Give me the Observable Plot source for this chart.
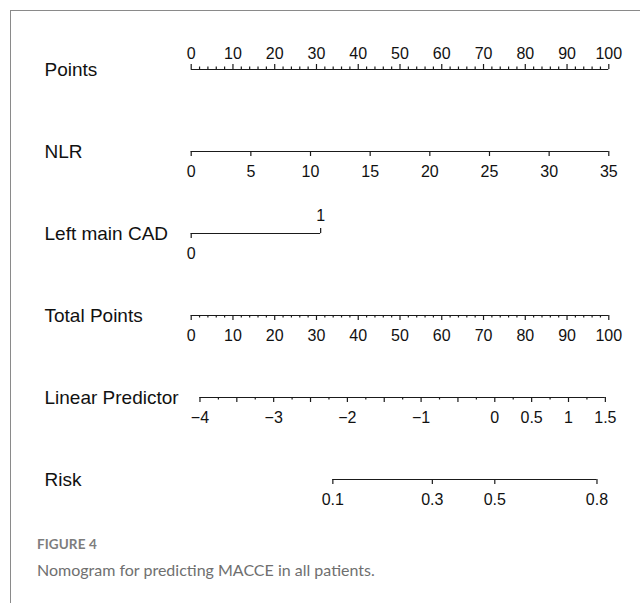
<!DOCTYPE html>
<html>
<head>
<meta charset="utf-8">
<script src="https://cdn.jsdelivr.net/npm/d3@7"></script>
<script src="https://cdn.jsdelivr.net/npm/@observablehq/plot@0.6"></script>
<style>
  html, body { margin: 0; padding: 0; background: #fff; }
  #page { position: relative; width: 640px; height: 603px; overflow: hidden; }
  #frame { position: absolute; left: 10px; top: 10px; width: 640px; height: 600px;
           border-top: 1.5px solid #8a8a8a; border-left: 1.5px solid #8a8a8a; }
  #chart { position: absolute; left: 0; top: 0; }
  #fig { position: absolute; left: 37px; top: 536px; font-family: Lato, "Open Sans", sans-serif;
         font-size: 13.5px; font-weight: 700; color: #7d7d7d; letter-spacing: 0.1px; }
  #cap { position: absolute; left: 37px; top: 560px; font-family: Lato, "Open Sans", sans-serif;
         font-size: 16px; color: #6f6f6f; }
</style>
</head>
<body>
<div id="page">
  <div id="frame"></div>
  <div id="chart"></div>
  <div id="fig">FIGURE 4</div>
  <div id="cap">Nomogram for predicting MACCE in all patients.</div>
</div>
<script>
// Nomogram rows, top to bottom
const rows = ["Points", "NLR", "Left main CAD", "Total Points", "Linear Predictor", "Risk"];

// Points scale
const pointsLabels = [0, 10, 20, 30, 40, 50, 60, 70, 80, 90, 100];
const pointsMinorStep = 2;

// NLR: full range 0–35 spans 0–100 points
const nlrLabels = [0, 5, 10, 15, 20, 25, 30, 35];
const nlrMax = 35;

// Left main CAD: level and its points
const lmcadLevels = [0, 1];
const lmcadPoints = [0, 31];

// Total points scale
const totalLabels = [0, 10, 20, 30, 40, 50, 60, 70, 80, 90, 100];
const totalMinorStep = 2;

// Linear predictor: labelled values, tick step and mapping to total points
const lpLabels = [-4, -3, -2, -1, 0, 0.5, 1, 1.5];
const lpMajorStep = 0.5;
const lpMinorStep = 0.25;
const lpSlope = 17.65;      // total points per unit of linear predictor
const lpIntercept = 72.7;   // total points at linear predictor 0

// Risk: labelled probabilities
const riskLabels = [0.1, 0.3, 0.5, 0.8];

const lpToPts = lp => lpIntercept + lpSlope * lp;
const riskToPts = r => lpToPts(Math.log(r / (1 - r)));
const fmt = v => String(v).replace("-", "\u2212");

// Axis lines (in points units)
const lines = [
  {row: "Points", x1: 0, x2: 100},
  {row: "NLR", x1: 0, x2: 100},
  {row: "Left main CAD", x1: lmcadPoints[0], x2: lmcadPoints[1]},
  {row: "Total Points", x1: 0, x2: 100},
  {row: "Linear Predictor", x1: lpToPts(lpLabels[0]), x2: lpToPts(lpLabels[lpLabels.length - 1])},
  {row: "Risk", x1: riskToPts(riskLabels[0]), x2: riskToPts(riskLabels[riskLabels.length - 1])}
];

// Ticks: dir up/down, size major/minor
const ticks = [];
const labels = [];
d3.range(0, 100 + 1e-9, pointsMinorStep).forEach(v =>
  ticks.push({row: "Points", x: v, dir: "up", major: v % 10 === 0}));
pointsLabels.forEach(v => labels.push({row: "Points", x: v, text: fmt(v), pos: "above"}));

nlrLabels.forEach(v => {
  ticks.push({row: "NLR", x: v / nlrMax * 100, dir: "down", major: true});
  labels.push({row: "NLR", x: v / nlrMax * 100, text: fmt(v), pos: "below"});
});

lmcadLevels.forEach((v, i) => {
  const below = i % 2 === 0;
  ticks.push({row: "Left main CAD", x: lmcadPoints[i], dir: below ? "down" : "up", major: true});
  labels.push({row: "Left main CAD", x: lmcadPoints[i], text: fmt(v), pos: below ? "below" : "above1"});
});

d3.range(0, 100 + 1e-9, totalMinorStep).forEach(v =>
  ticks.push({row: "Total Points", x: v, dir: "down", major: v % 10 === 0}));
totalLabels.forEach(v => labels.push({row: "Total Points", x: v, text: fmt(v), pos: "below"}));

d3.range(lpLabels[0], lpLabels[lpLabels.length - 1] + 1e-9, lpMinorStep).forEach(v =>
  ticks.push({row: "Linear Predictor", x: lpToPts(v), dir: "down",
              major: Math.abs(v / lpMajorStep - Math.round(v / lpMajorStep)) < 1e-9}));
lpLabels.forEach(v => labels.push({row: "Linear Predictor", x: lpToPts(v), text: fmt(v), pos: "below"}));

riskLabels.forEach(v => {
  ticks.push({row: "Risk", x: riskToPts(v), dir: "down", major: true});
  labels.push({row: "Risk", x: riskToPts(v), text: fmt(v), pos: "below"});
});

const ink = "#1a1a1a";
const font = "Liberation Sans, Arial, sans-serif";
const tickMark = (dir, major) => Plot.ruleX(ticks.filter(d => d.dir === dir && d.major === major), {
  x: "x", y1: "row", y2: "row", stroke: ink, strokeWidth: 1.2,
  insetTop: dir === "up" ? (major ? -5 : -2.5) : 0,
  insetBottom: dir === "down" ? (major ? -5 : -2.5) : 0
});
const tickText = (pos, dy) => Plot.text(labels.filter(d => d.pos === pos), {
  x: "x", y: "row", text: "text", dy, fontSize: 16, fontFamily: font, fill: "#111"
});

const chart = Plot.plot({
  width: 640,
  height: 520,
  marginLeft: 0,
  marginRight: 0,
  marginTop: 0,
  marginBottom: 0,
  style: {fontFamily: font, background: "transparent"},
  x: {domain: [0, 100], range: [190.7, 608.3], axis: null},
  y: {type: "point", domain: rows, range: [68.3, 480], padding: 0, axis: null},
  marks: [
    Plot.ruleY(lines, {y: "row", x1: "x1", x2: "x2", stroke: ink, strokeWidth: 1.2}),
    tickMark("up", true),
    tickMark("up", false),
    tickMark("down", true),
    tickMark("down", false),
    tickText("above", -16),
    tickText("above1", -18),
    tickText("below", 20),
    Plot.text(rows, {y: d => d, text: d => d, frameAnchor: "left", textAnchor: "start",
                     dx: 44, fontSize: 19, fontFamily: font, fill: "#111"})
  ]
});
document.getElementById("chart").appendChild(chart);
</script>
</body>
</html>
